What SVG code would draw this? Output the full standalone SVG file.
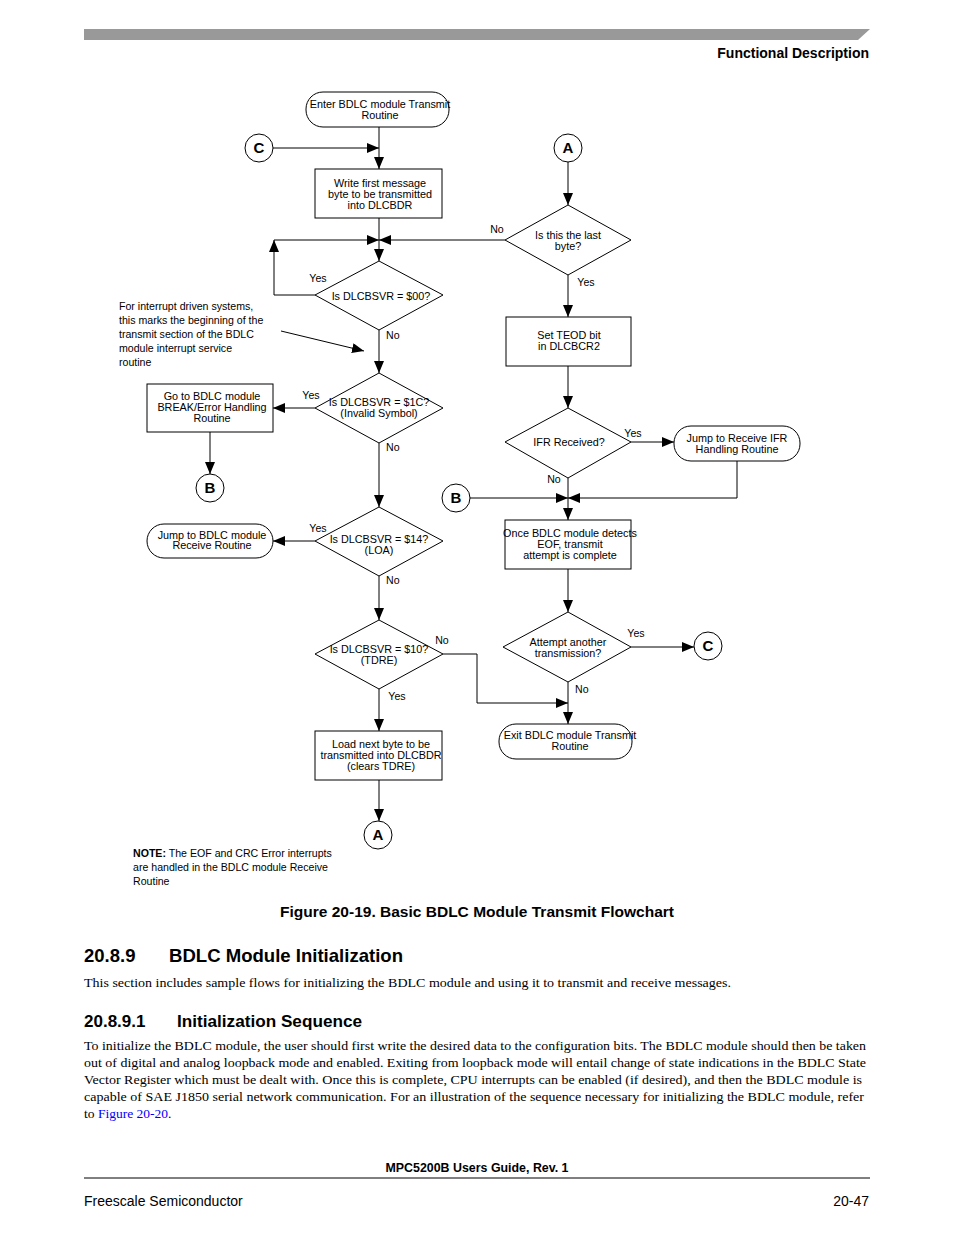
<svg xmlns="http://www.w3.org/2000/svg" width="954" height="1235" viewBox="0 0 954 1235">
<style>
.s{fill:#fff;stroke:#000;stroke-width:1}
.c{fill:none;stroke:#000;stroke-width:1}
.t{font-family:"Liberation Sans",Arial,sans-serif;font-size:10.8px;fill:#000}
.n{font-family:"Liberation Sans",Arial,sans-serif;font-size:10.6px;fill:#000}
.m{text-anchor:middle}
.cl{font-family:"Liberation Sans",Arial,sans-serif;font-size:15px;font-weight:bold;text-anchor:middle}
.b{font-family:"Liberation Serif","Times New Roman",serif;font-size:13.5px;fill:#000}
.h{font-family:"Liberation Sans",Arial,sans-serif;font-weight:bold;fill:#000}
</style>
<defs>
<marker id="ar" markerUnits="userSpaceOnUse" markerWidth="12" markerHeight="10" refX="12" refY="5" orient="auto">
<path d="M0,0 L12,5 L0,10 z" fill="#000"/>
</marker>
</defs>
<rect width="954" height="1235" fill="#fff"/>
<g id="header">
<path d="M84,29 H870 L858,40 H84 z" fill="#999"/>
<text x="869" y="58" class="h" font-size="14" text-anchor="end">Functional Description</text>
</g>
<g id="connectors">
<path class="c" d="M379,127 V169" marker-end="url(#ar)"/>
<path class="c" d="M273,148 H379" marker-end="url(#ar)"/>
<path class="c" d="M379,218 V261" marker-end="url(#ar)"/>
<path class="c" d="M315,295 H274 V240" marker-end="url(#ar)"/>
<path class="c" d="M274,240 H379" marker-end="url(#ar)"/>
<path class="c" d="M505,240 H379" marker-end="url(#ar)"/>
<path class="c" d="M379,330 V373" marker-end="url(#ar)"/>
<path class="c" d="M281,331 L364,351" marker-end="url(#ar)"/>
<path class="c" d="M315,408 H273" marker-end="url(#ar)"/>
<path class="c" d="M210,432 V474" marker-end="url(#ar)"/>
<path class="c" d="M379,443 V507" marker-end="url(#ar)"/>
<path class="c" d="M315,541 H273" marker-end="url(#ar)"/>
<path class="c" d="M379,576 V620" marker-end="url(#ar)"/>
<path class="c" d="M443,654 H477 V703 H568" marker-end="url(#ar)"/>
<path class="c" d="M379,689 V731" marker-end="url(#ar)"/>
<path class="c" d="M379,780 V821" marker-end="url(#ar)"/>
<path class="c" d="M568,162 V205" marker-end="url(#ar)"/>
<path class="c" d="M568,275 V317" marker-end="url(#ar)"/>
<path class="c" d="M568,366 V408" marker-end="url(#ar)"/>
<path class="c" d="M631,442 H674" marker-end="url(#ar)"/>
<path class="c" d="M737,461 V498 H568" marker-end="url(#ar)"/>
<path class="c" d="M470,498 H568" marker-end="url(#ar)"/>
<path class="c" d="M568,478 V520" marker-end="url(#ar)"/>
<path class="c" d="M568,569 V612" marker-end="url(#ar)"/>
<path class="c" d="M631,647 H694" marker-end="url(#ar)"/>
<path class="c" d="M568,682 V724" marker-end="url(#ar)"/>
</g>
<g id="labels" class="n">
<text x="318" y="282" class="m">Yes</text>
<text x="386" y="339">No</text>
<text x="311" y="399" class="m">Yes</text>
<text x="386" y="451">No</text>
<text x="318" y="532" class="m">Yes</text>
<text x="386" y="584">No</text>
<text x="442" y="644" class="m">No</text>
<text x="397" y="700" class="m">Yes</text>
<text x="497" y="233" class="m">No</text>
<text x="586" y="286" class="m">Yes</text>
<text x="633" y="437" class="m">Yes</text>
<text x="554" y="483" class="m">No</text>
<text x="636" y="637" class="m">Yes</text>
<text x="575" y="693">No</text>
</g>
<g id="start">
<rect class="s" x="306" y="92" width="143" height="35" rx="17"/>
<text class="t m" x="380" y="108">Enter BDLC module Transmit</text>
<text class="t m" x="380" y="119">Routine</text>
</g>
<g id="connC1">
<circle class="s" cx="259" cy="148" r="14"/>
<text class="cl" x="259" y="153">C</text>
</g>
<g id="writeFirst">
<rect class="s" x="315" y="169" width="127" height="49"/>
<text class="t m" x="380" y="187">Write first message</text>
<text class="t m" x="380" y="198">byte to be transmitted</text>
<text class="t m" x="380" y="209">into DLCBDR</text>
</g>
<g id="d00">
<path class="s" d="M379,261 L443,295 L379,330 L315,295 z"/>
<text class="t m" x="381" y="300">Is DLCBSVR = $00?</text>
</g>
<g id="note1" class="n">
<text x="119" y="310">For interrupt driven systems,</text>
<text x="119" y="324">this marks the beginning of the</text>
<text x="119" y="338">transmit section of the BDLC</text>
<text x="119" y="352">module interrupt service</text>
<text x="119" y="366">routine</text>
</g>
<g id="d1C">
<path class="s" d="M379,373 L443,408 L379,443 L315,408 z"/>
<text class="t m" x="379" y="406">Is DLCBSVR = $1C?</text>
<text class="t m" x="379" y="417">(Invalid Symbol)</text>
</g>
<g id="breakBox">
<rect class="s" x="147" y="384" width="126" height="48"/>
<text class="t m" x="212" y="400">Go to BDLC module</text>
<text class="t m" x="212" y="411">BREAK/Error Handling</text>
<text class="t m" x="212" y="422">Routine</text>
</g>
<g id="connB1">
<circle class="s" cx="210" cy="488" r="14"/>
<text class="cl" x="210" y="493">B</text>
</g>
<g id="d14">
<path class="s" d="M379,507 L443,541 L379,576 L315,541 z"/>
<text class="t m" x="379" y="543">Is DLCBSVR = $14?</text>
<text class="t m" x="379" y="554">(LOA)</text>
</g>
<g id="jumpReceive">
<rect class="s" x="147" y="524" width="126" height="34" rx="17"/>
<text class="t m" x="212" y="539">Jump to BDLC module</text>
<text class="t m" x="212" y="549">Receive Routine</text>
</g>
<g id="d10">
<path class="s" d="M379,620 L443,654 L379,689 L315,654 z"/>
<text class="t m" x="379" y="653">Is DLCBSVR = $10?</text>
<text class="t m" x="379" y="664">(TDRE)</text>
</g>
<g id="loadNext">
<rect class="s" x="315" y="731" width="127" height="49"/>
<text class="t m" x="381" y="748">Load next byte to be</text>
<text class="t m" x="381" y="759">transmitted into DLCBDR</text>
<text class="t m" x="381" y="770">(clears TDRE)</text>
</g>
<g id="connA1">
<circle class="s" cx="378" cy="835" r="14"/>
<text class="cl" x="378" y="840">A</text>
</g>
<g id="note2" class="n">
<text x="133" y="857"><tspan font-weight="bold">NOTE:</tspan> The EOF and CRC Error interrupts</text>
<text x="133" y="871">are handled in the BDLC module Receive</text>
<text x="133" y="885">Routine</text>
</g>
<g id="connA2">
<circle class="s" cx="568" cy="148" r="14"/>
<text class="cl" x="568" y="153">A</text>
</g>
<g id="dLast">
<path class="s" d="M568,205 L631,240 L568,275 L505,240 z"/>
<text class="t m" x="568" y="239">Is this the last</text>
<text class="t m" x="568" y="250">byte?</text>
</g>
<g id="setTeod">
<rect class="s" x="506" y="317" width="125" height="49"/>
<text class="t m" x="569" y="339">Set TEOD bit</text>
<text class="t m" x="569" y="350">in DLCBCR2</text>
</g>
<g id="dIfr">
<path class="s" d="M568,408 L631,442 L568,478 L505,442 z"/>
<text class="t m" x="569" y="446">IFR Received?</text>
</g>
<g id="jumpIfr">
<rect class="s" x="674" y="426" width="126" height="35" rx="17"/>
<text class="t m" x="737" y="442">Jump to Receive IFR</text>
<text class="t m" x="737" y="453">Handling Routine</text>
</g>
<g id="connB2">
<circle class="s" cx="456" cy="498" r="14"/>
<text class="cl" x="456" y="503">B</text>
</g>
<g id="onceBox">
<rect class="s" x="505" y="520" width="126" height="49"/>
<text class="t m" x="570" y="537">Once BDLC module detects</text>
<text class="t m" x="570" y="548">EOF, transmit</text>
<text class="t m" x="570" y="559">attempt is complete</text>
</g>
<g id="dAttempt">
<path class="s" d="M568,612 L631,647 L568,682 L503,647 z"/>
<text class="t m" x="568" y="646">Attempt another</text>
<text class="t m" x="568" y="657">transmission?</text>
</g>
<g id="connC2">
<circle class="s" cx="708" cy="646" r="14"/>
<text class="cl" x="708" y="651">C</text>
</g>
<g id="exit">
<rect class="s" x="499" y="724" width="133" height="35" rx="17"/>
<text class="t m" x="570" y="739">Exit BDLC module Transmit</text>
<text class="t m" x="570" y="750">Routine</text>
</g>
<g id="text">
<text x="477" y="917" class="h" font-size="15.5" text-anchor="middle" textLength="394" lengthAdjust="spacingAndGlyphs">Figure 20-19. Basic BDLC Module Transmit Flowchart</text>
<text x="84" y="962" class="h" font-size="18.5">20.8.9</text>
<text x="169" y="962" class="h" font-size="18.5" textLength="234" lengthAdjust="spacingAndGlyphs">BDLC Module Initialization</text>
<text x="84" y="987" class="b" textLength="647" lengthAdjust="spacingAndGlyphs">This section includes sample flows for initializing the BDLC module and using it to transmit and receive messages.</text>
<text x="84" y="1027" class="h" font-size="17">20.8.9.1</text>
<text x="177" y="1027" class="h" font-size="17" textLength="185" lengthAdjust="spacingAndGlyphs">Initialization Sequence</text>
<text x="84" y="1050" class="b" textLength="782" lengthAdjust="spacingAndGlyphs">To initialize the BDLC module, the user should first write the desired data to the configuration bits. The BDLC module should then be taken</text>
<text x="84" y="1067" class="b" textLength="782" lengthAdjust="spacingAndGlyphs">out of digital and analog loopback mode and enabled. Exiting from loopback mode will entail change of state indications in the BDLC State</text>
<text x="84" y="1084" class="b" textLength="778" lengthAdjust="spacingAndGlyphs">Vector Register which must be dealt with. Once this is complete, CPU interrupts can be enabled (if desired), and then the BDLC module is</text>
<text x="84" y="1101" class="b" textLength="780" lengthAdjust="spacingAndGlyphs">capable of SAE J1850 serial network communication. For an illustration of the sequence necessary for initializing the BDLC module, refer</text>
<text x="84" y="1118" class="b">to <tspan fill="#0000ff">Figure 20-20</tspan>.</text>
</g>
<g id="footer">
<text x="477" y="1172" class="h" font-size="12.4" text-anchor="middle">MPC5200B Users Guide, Rev. 1</text>
<line x1="84" y1="1178" x2="870" y2="1178" stroke="#000" stroke-width="1"/>
<text x="84" y="1206" font-family="Liberation Sans,Arial,sans-serif" font-size="14">Freescale Semiconductor</text>
<text x="869" y="1206" font-family="Liberation Sans,Arial,sans-serif" font-size="14" text-anchor="end">20-47</text>
</g>
</svg>
